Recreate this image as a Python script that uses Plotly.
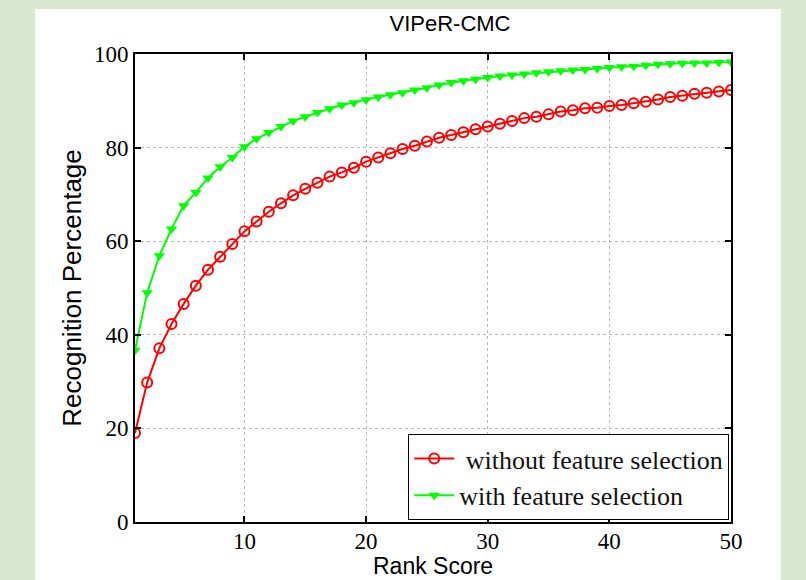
import plotly.graph_objects as go

ranks = list(range(1, 51))
without_fs = [19.0, 29.8, 37.1, 42.3, 46.6, 50.5, 53.9, 56.7, 59.4, 62.1,
              64.2, 66.3, 68.1, 69.8, 71.2, 72.5, 73.8, 74.7, 75.7, 77.0,
              77.9, 78.8, 79.7, 80.4, 81.3, 82.1, 82.7, 83.3, 83.9, 84.5,
              85.1, 85.7, 86.3, 86.6, 87.1, 87.7, 88.0, 88.4, 88.5, 88.9,
              89.1, 89.5, 89.8, 90.3, 90.8, 91.1, 91.5, 91.7, 92.0, 92.3]
with_fs = [36.7, 49.0, 56.9, 62.6, 67.6, 70.4, 73.5, 75.9, 77.9, 80.2,
           81.9, 83.2, 84.5, 85.7, 86.6, 87.5, 88.3, 89.1, 89.6, 90.2,
           90.8, 91.3, 91.7, 92.3, 92.8, 93.4, 93.9, 94.3, 94.6, 95.0,
           95.3, 95.5, 95.7, 96.0, 96.2, 96.4, 96.6, 96.7, 96.9, 97.1,
           97.3, 97.4, 97.6, 97.8, 97.9, 98.0, 98.1, 98.1, 98.2, 98.3]
x_ticks = [10, 20, 30, 40, 50]
y_ticks = [0, 20, 40, 60, 80, 100]
names = ["\u00a0without feature selection", "with feature selection"]
x_title = "Rank Score"
y_title = "Recognition Percentage"

serif = "Liberation Serif, Times New Roman, serif"
sans = "Liberation Sans, Arial, sans-serif"

fig = go.Figure()
fig.add_trace(go.Scatter(
    x=ranks, y=without_fs, name=names[0], mode="lines+markers",
    line=dict(color="#ff0000", width=2),
    marker=dict(symbol="circle-open", size=10, color="#ff0000", line=dict(width=2)),
))
fig.add_trace(go.Scatter(
    x=ranks, y=with_fs, name=names[1], mode="lines+markers",
    line=dict(color="#00ff00", width=2),
    marker=dict(symbol="triangle-down", size=10, color="#00ff00"),
))

fig.add_shape(type="rect", xref="paper", yref="paper",
              x0=(35 - 135) / 596, x1=(781 - 135) / 596,
              y0=(522.5 - 590) / 468.5, y1=(522.5 - 9) / 468.5,
              fillcolor="white", line=dict(width=0), layer="below")

fig.add_annotation(text=x_title, xref="paper", yref="paper",
                   x=0.5, y=(522.5 - 567) / 468.5, xanchor="center", yanchor="middle",
                   showarrow=False, font=dict(family=sans, size=23, color="black"))

axis_common = dict(
    showline=True, linecolor="black", linewidth=2, mirror="ticks",
    ticks="inside", ticklen=6, tickwidth=2, tickcolor="black",
    showgrid=True, gridcolor="#b8b8b8", griddash="dot", gridwidth=1,
    zeroline=False, automargin=False,
    tickfont=dict(family=serif, size=23, color="black"),
)

fig.update_layout(
    width=806, height=580,
    margin=dict(l=135, r=75, t=54, b=57.5),
    paper_bgcolor="#d8e8cf", plot_bgcolor="white",
    title=dict(text="VIPeR-CMC", x=450 / 806, xanchor="center",
               y=1 - 23 / 580, yanchor="middle", yref="container",
               font=dict(family=sans, size=22, color="black")),
    xaxis=dict(range=[1, 50], tickvals=x_ticks, ticktext=[str(v) for v in x_ticks],
               ticklabelstandoff=-3, **axis_common),
    yaxis=dict(range=[0, 100], tickvals=y_ticks, ticktext=[str(v) for v in y_ticks],
               title=dict(text=y_title, font=dict(family=sans, size=26, color="black"),
                          standoff=5),
               **axis_common),
    legend=dict(x=0.997, xanchor="right", y=0.004, yanchor="bottom",
                bgcolor="white", bordercolor="black", borderwidth=1,
                font=dict(family=serif, size=26, color="#111111"),
                itemwidth=40, tracegroupgap=0),
    showlegend=True,
)

fig.write_html("out.html", config={"displayModeBar": False},
               post_script="document.body.style.margin='0';document.body.style.overflow='hidden';")
